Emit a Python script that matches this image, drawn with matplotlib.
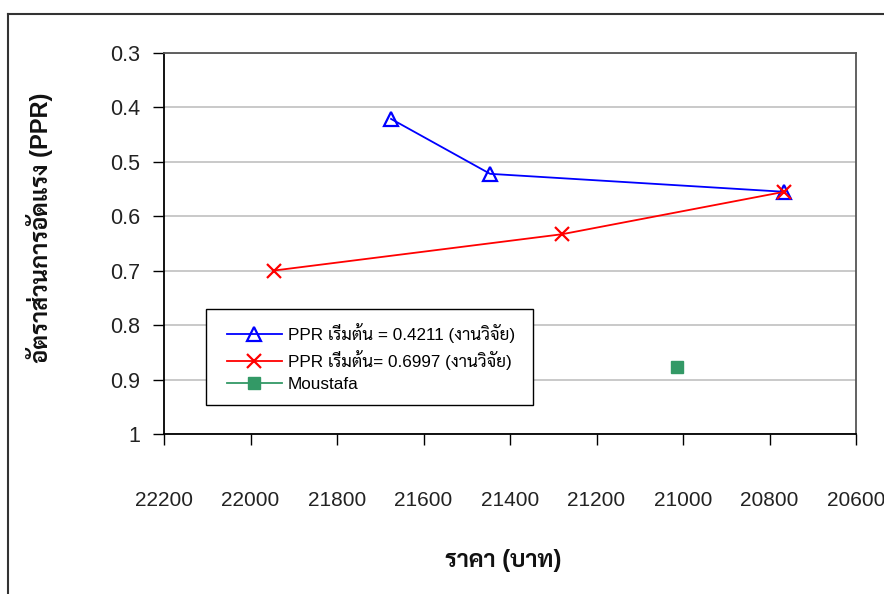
import matplotlib
matplotlib.use("Agg")
import matplotlib.pyplot as plt
from matplotlib import font_manager
from matplotlib.lines import Line2D
from matplotlib.patches import Rectangle

# ---- data ----
blue_x = [21675, 21446, 20766]
blue_y = [0.4211, 0.522, 0.555]
red_x = [21946, 21280, 20766]
red_y = [0.6997, 0.633, 0.555]
green_x = [21014]
green_y = [0.877]
x_ticks = [22200, 22000, 21800, 21600, 21400, 21200, 21000, 20800, 20600]
y_ticks = [0.3, 0.4, 0.5, 0.6, 0.7, 0.8, 0.9, 1.0]
y_tick_labels = ["0.3", "0.4", "0.5", "0.6", "0.7", "0.8", "0.9", "1"]
labels = ["PPR เริ่มต้น = 0.4211 (งานวิจัย)", "PPR เริ่มต้น= 0.6997 (งานวิจัย)", "Moustafa"]
xlabel = "ราคา (บาท)"
ylabel = "อัตราส่วนการอัดแรง (PPR)"

names = {f.name for f in font_manager.fontManager.ttflist}
thai = [n for n in ["Sarabun", "Noto Sans Thai", "IBM Plex Sans Thai Looped", "IBM Plex Sans Thai"] if n in names]
families = ["Liberation Sans"] + thai + ["DejaVu Sans"]
plt.rcParams["font.family"] = families

W, H = 884, 594
fig = plt.figure(figsize=(W/100, H/100), dpi=100)
ax = fig.add_axes([164/W, 1-434/H, (856-164)/W, (434-53)/H])

ax.plot(blue_x, blue_y, color="#0000ff", lw=1.3, marker="^", ms=10, mfc="none",
        mec="#0000ff", mew=1.6, label=labels[0], zorder=3)
ax.plot(red_x, red_y, color="#ff0000", lw=1.3, marker="x", ms=10, mew=1.6,
        label=labels[1], zorder=3)
ax.plot(green_x, green_y, color="#339966", lw=1.3, marker="s", ms=8.5,
        linestyle="-", label=labels[2], zorder=3)

ax.set_xlim(22200, 20600)
ax.set_ylim(1.0, 0.3)
ax.set_xticks(x_ticks)
ax.set_xticklabels([str(v) for v in x_ticks])
ax.set_yticks(y_ticks)
ax.set_yticklabels(y_tick_labels)
ax.yaxis.grid(True, color="#c0c0c0", lw=1.2)
ax.set_axisbelow(True)
ax.tick_params(axis="x", direction="out", length=8, width=1, colors="#000000",
               labelsize=15, pad=33, labelcolor="#222222")
ax.tick_params(axis="y", direction="out", length=8, width=1, labelsize=15.5, pad=9,
               labelcolor="#222222")
for s in ["left", "bottom"]:
    ax.spines[s].set_color("#000000")
    ax.spines[s].set_linewidth(1.3)
for s in ["top", "right"]:
    ax.spines[s].set_color("#555555")
    ax.spines[s].set_linewidth(1.3)

fig.text(503/W, 1-560/H, xlabel, fontsize=17, fontweight="bold",
         ha="center", va="center", color="#111111")
fig.text(40/W, 1-228/H, ylabel, fontsize=17, fontweight="bold", rotation=90,
         ha="center", va="center", color="#111111")

# legend frame drawn separately
fig.add_artist(Rectangle((206/W, 1-405/H), (533-206)/W, (405-309)/H,
                         transform=fig.transFigure, facecolor="white",
                         edgecolor="#000000", lw=1.0, zorder=4))
leg = fig.legend(loc="upper left", bbox_to_anchor=(227/W, 1-323/H),
                 frameon=False, fontsize=12.3,
                 handlelength=3.2, handletextpad=0.35, borderpad=0,
                 labelspacing=0.42, borderaxespad=0)
leg.set_zorder(5)

# figure border (left and top)
fig.add_artist(Line2D([8/W, 8/W], [0, 1-14/H], color="#333333", lw=1.5,
                      transform=fig.transFigure))
fig.add_artist(Line2D([8/W, 1], [1-14/H, 1-14/H], color="#333333", lw=1.5,
                      transform=fig.transFigure))

fig.savefig("out.png", dpi=100)
